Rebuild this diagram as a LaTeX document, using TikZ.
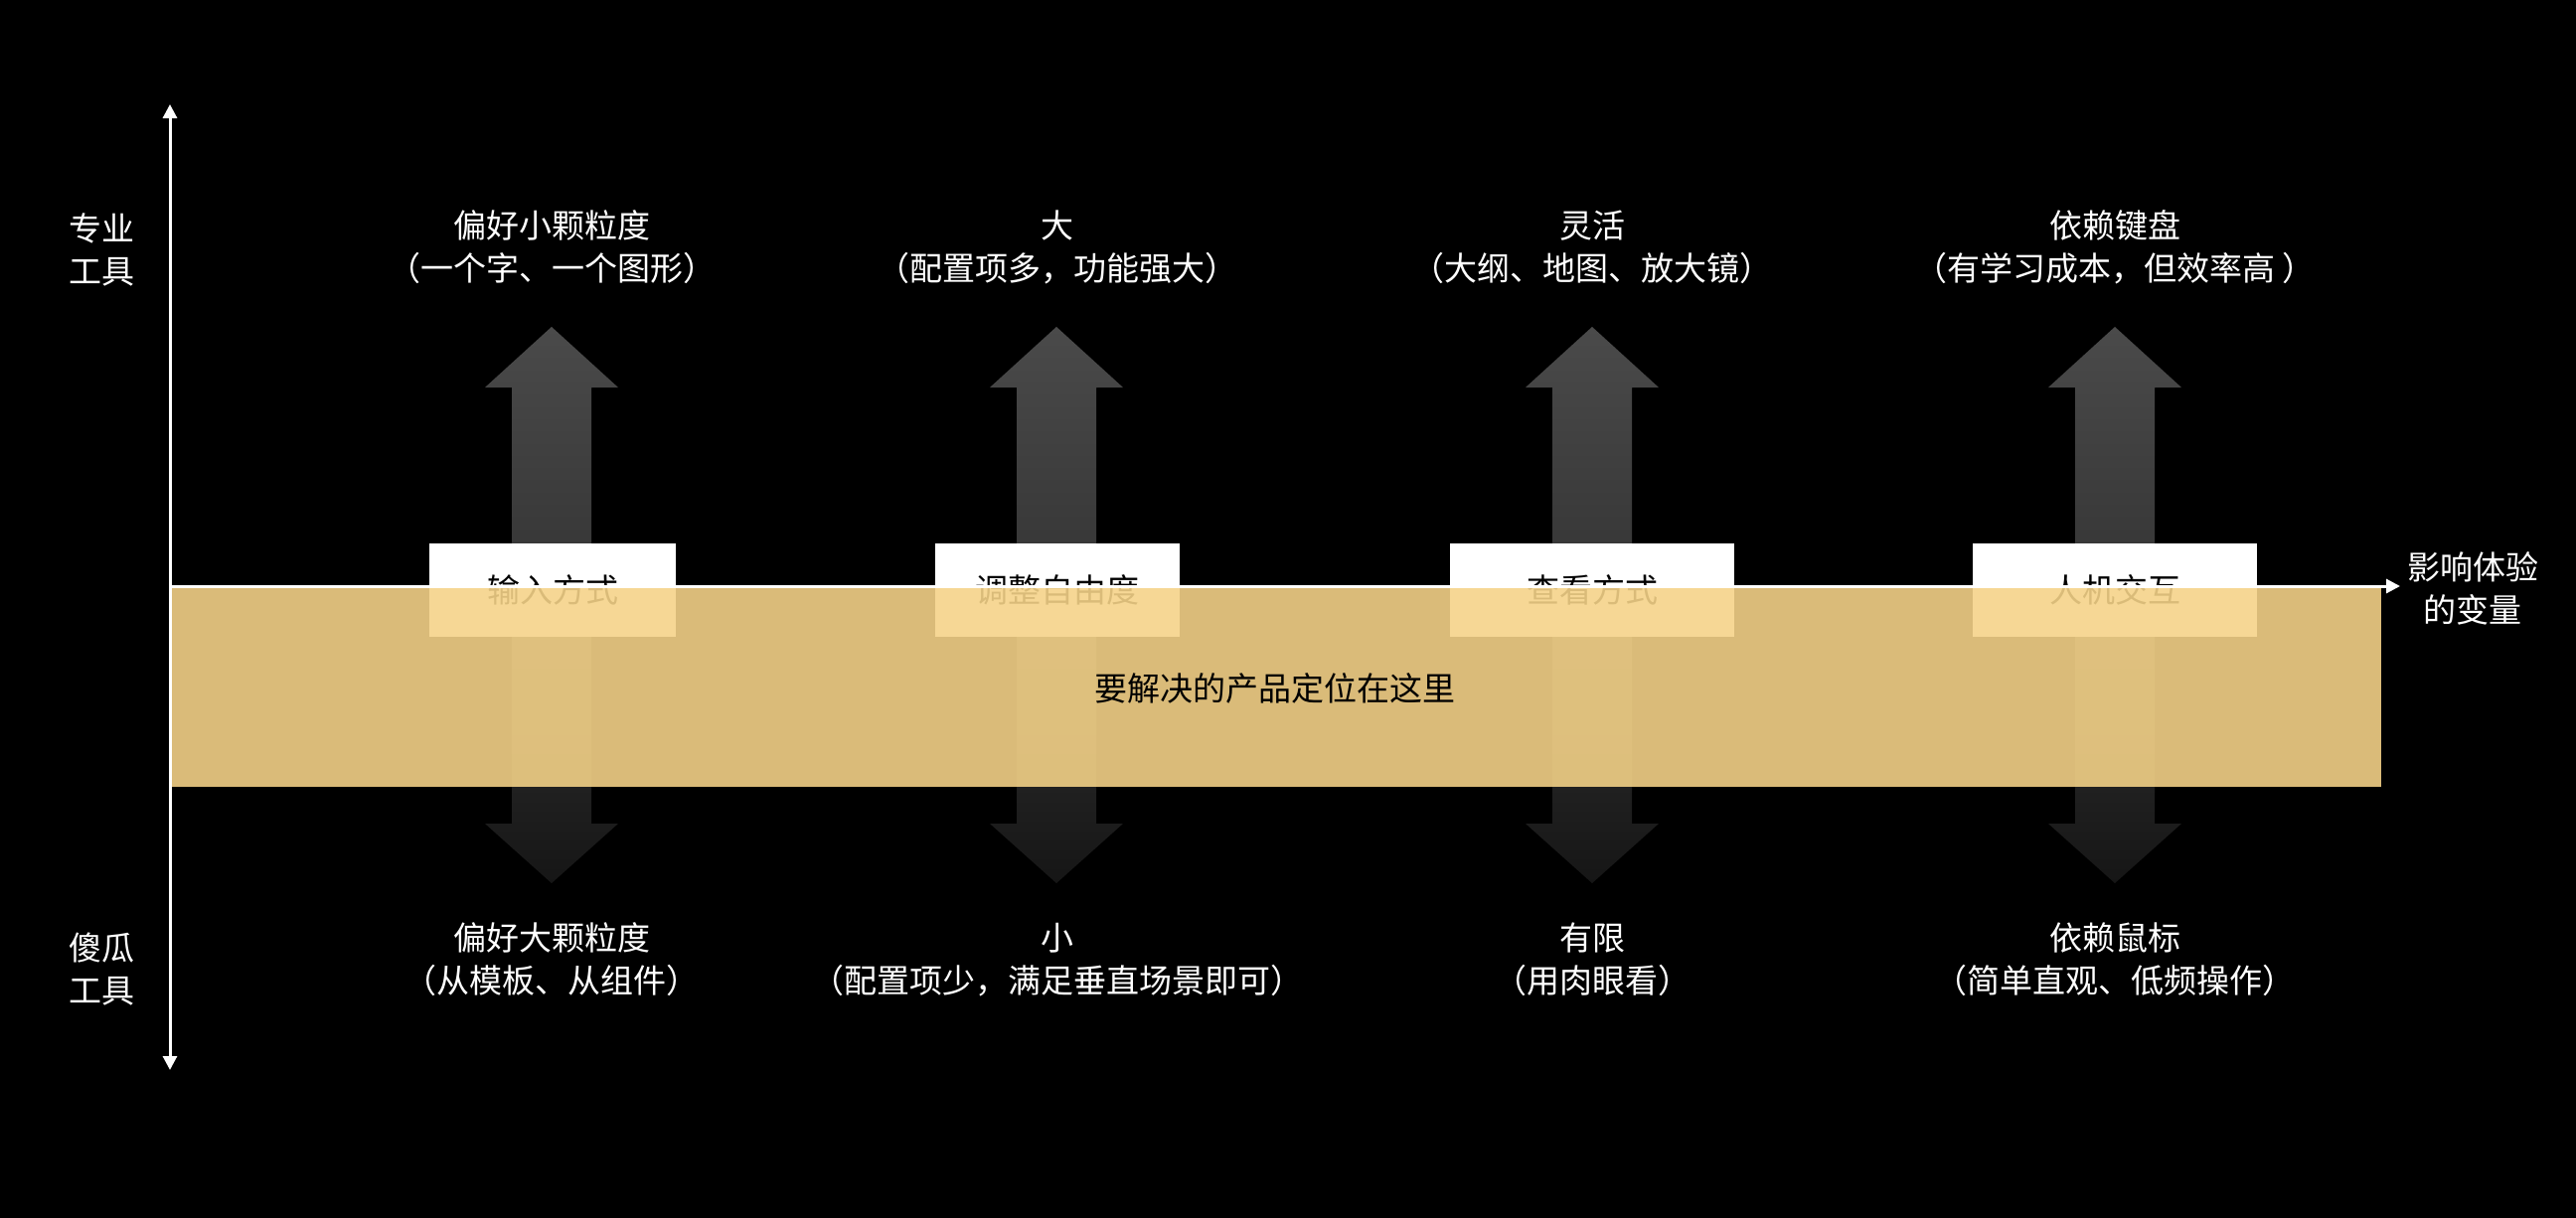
\documentclass[tikz,border=0pt]{standalone}
\usepackage{fontspec}
\setmainfont{Noto Sans CJK SC}
\usetikzlibrary{arrows.meta}
\definecolor{bandgold}{HTML}{F5D388}
\definecolor{arrtop}{HTML}{4A4A4A}
\definecolor{arrmid}{HTML}{343434}
\definecolor{arrbot}{HTML}{161616}
\tikzset{
  lbl/.style={text=white, align=center, inner sep=0pt, font=\fontsize{16.5pt}{21.5pt}\selectfont},
  labelbox/.style={fill=white, text=black, inner sep=0pt, minimum height=47pt, font=\fontsize{16.5pt}{21.5pt}\selectfont},
  axisline/.style={draw=white, line width=1.5pt},
  bandtext/.style={text=black, inner sep=0pt, font=\fontsize{16.5pt}{21.5pt}\selectfont}
}
\begin{document}
\begin{tikzpicture}[x=0.5pt,y=-0.5pt]
\fill[black] (0,0) rectangle (2592,1226);
\useasboundingbox (0,0) rectangle (2592,1226);
% shaded arrows
\foreach \cx in {555,1063,1602,2128}{
  \shade[top color=arrtop, bottom color=arrmid]
    (\cx,329) -- (\cx+67,390) -- (\cx+40,390) -- (\cx+40,600) -- (\cx-40,600) -- (\cx-40,390) -- (\cx-67,390) -- cycle;
  \shade[top color=arrmid, bottom color=arrbot]
    (\cx-40,600) -- (\cx+40,600) -- (\cx+40,829) -- (\cx+67,829) -- (\cx,889) -- (\cx-67,829) -- (\cx-40,829) -- cycle;
}
% label boxes
\node[labelbox, minimum width=124pt] (b1) at (556,594) {输入方式};
\node[labelbox, minimum width=123pt] (b2) at (1064,594) {调整自由度};
\node[labelbox, minimum width=143pt] (b3) at (1602,594) {查看方式};
\node[labelbox, minimum width=143pt] (b4) at (2128,594) {人机交互};
% band
\fill[bandgold, fill opacity=0.89] (171,592) rectangle (2396,792);
\node[bandtext] (bt) at (1283,693) {要解决的产品定位在这里};
% axes
\coordinate (ytop) at (171,105);
\coordinate (ybot) at (171,1077);
\coordinate (xl) at (171,590);
\coordinate (xr) at (2415,590);
\draw[axisline, {Triangle[length=7pt,width=7pt]}-{Triangle[length=7pt,width=7pt]}] (ybot) -- (ytop);
\draw[axisline, -{Triangle[length=7pt,width=7pt]}] (xl) -- (xr);
% axis labels
\node[lbl] (pro) at (102,251) {专业\\工具};
\node[lbl] (easy) at (102,976) {傻瓜\\工具};
\node[lbl] (var) at (2488,592) {影响体验\\的变量};
% top labels
\node[lbl] (t1) at (555,249) {偏好小颗粒度\\（一个字、一个图形）};
\node[lbl] (t2) at (1064,249) {大\\（配置项多，功能强大）};
\node[lbl] (t3) at (1602,249) {灵活\\（大纲、地图、放大镜）};
\node[lbl] (t4) at (2128,249) {依赖键盘\\（有学习成本，但效率高 ）};
% bottom labels
\node[lbl] (d1) at (555,966) {偏好大颗粒度\\（从模板、从组件）};
\node[lbl] (d2) at (1064,966) {小\\（配置项少，满足垂直场景即可）};
\node[lbl] (d3) at (1602,966) {有限\\（用肉眼看）};
\node[lbl] (d4) at (2128,966) {依赖鼠标\\（简单直观、低频操作）};
\end{tikzpicture}
\end{document}
